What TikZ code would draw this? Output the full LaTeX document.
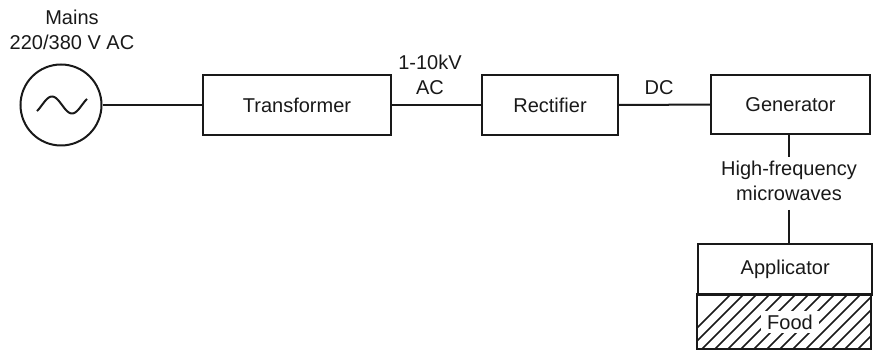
\documentclass[tikz,border=0pt]{standalone}
\usepackage{fontspec}
\setmainfont{Liberation Sans}
\begin{document}
\begin{tikzpicture}[x=1pt,y=-1pt,
  every node/.style={font=\fontsize{20}{25}\selectfont, text=black!90},
  block/.style={draw=black!90, line width=2.4pt, rectangle, inner sep=0pt, minimum height=60pt},
  wire/.style={draw=black!90, line width=2pt},
  lbl/.style={align=center, inner sep=0pt}]
\useasboundingbox (0,0) rectangle (874,352);

% AC source
\node[draw=black!90, line width=2pt, circle, minimum size=81pt, inner sep=0pt] (src) at (61,105) {};
\draw[line width=2pt, black!90] plot[domain=-25:25, samples=80, smooth] ({62+\x},{105+8.5*sin(360*\x/40)});
\node[lbl] (mains) at (72,30) {Mains\\220/380 V AC};

% Chain of blocks
\node[block, minimum width=188pt] (tr) at (297,105) {Transformer};
\node[block, minimum width=136pt] (re) at (550,105) {Rectifier};
\node[block, minimum width=159pt, minimum height=59pt] (ge) at (790.5,104.5) {Generator};

\draw[wire] (src) -- (tr);
\draw[wire] (tr) -- (re);
\draw[wire] (re) -- (ge);

\node[lbl] (hv) at (430,75) {1-10kV\\AC};
\node[lbl] (dc) at (659,88) {DC};

% Applicator with hatched food compartment
\node[block, minimum width=174pt, minimum height=51pt, anchor=north west] (ap) at (697,243) {Applicator};
\coordinate (fnw) at (697,294);
\coordinate (fse) at (871,349);
\begin{scope}
  \clip (fnw) rectangle (fse);
  \foreach \k in {0,...,20} {
    \draw[line width=1.6pt, black!90] ({676+13*\k},349) -- ({676+13*\k+60},289);
  }
\end{scope}
\draw[draw=black!90, line width=2.4pt] (fnw) rectangle (fse);
\node[fill=white, inner xsep=6pt, inner ysep=4pt] (food) at (790,322) {Food};

% Microwave feed
\coordinate (gx) at (789,134);
\node[lbl] (hf) at (789,181) {High-frequency\\microwaves};
\draw[wire] (ge.south -| gx) -- (gx |- 0,157);
\draw[wire] (gx |- 0,210) -- (gx |- ap.north);
\end{tikzpicture}
\end{document}
